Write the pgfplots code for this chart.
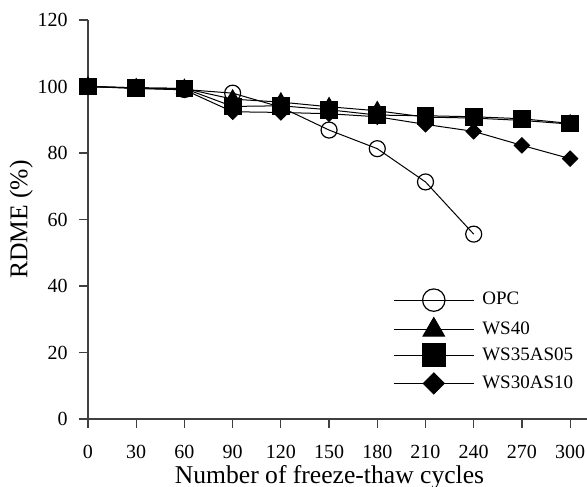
\documentclass[border=0pt]{standalone}
\usepackage{fontspec}
\setmainfont{Liberation Serif}
\usepackage{pgfplots}
\pgfplotsset{compat=1.18}

\pgfplotsset{
  opc/.style={black, line width=0.5pt, mark=o, mark size=4pt, mark options={solid, line width=0.6pt}},
  wsforty/.style={black, line width=0.5pt, mark=triangle*, mark size=4.6pt, mark options={solid}},
  wsthirtyfive/.style={black, line width=0.5pt, mark=square*, mark size=4.2pt, mark options={solid}},
  wsthirty/.style={black, line width=0.5pt, mark=square*, mark size=2.7pt, mark options={solid, rotate=45}},
}

\begin{document}
\begin{tikzpicture}
% page frame around the axis (axis sits with its lower left corner at the origin)
\useasboundingbox (-44pt,-33.5pt) rectangle (249.5pt,209.5pt);
\begin{axis}[
  scale only axis,
  width=249.5pt, height=199.5pt,
  xmin=0, xmax=310.5, ymin=0, ymax=120,
  axis x line*=bottom, axis y line*=left,
  axis line style={black!75, line width=0.6pt},
  xtick={0,30,...,300}, ytick={0,20,...,120},
  tick align=outside, major tick length=4.5pt,
  tick style={black!75, line width=0.6pt},
  /pgf/number format/assume math mode=true,
  tick label style={font=\fontsize{10}{12}\selectfont},
  yticklabel style={anchor=east, inner sep=0pt, xshift=-5.5pt},
  xticklabel style={anchor=north, inner sep=0pt, yshift=-8.6pt},
  xlabel={Number of freeze-thaw cycles},
  ylabel={RDME (\%)},
  label style={font=\fontsize{12.8}{15}\selectfont},
  xlabel style={at={(axis description cs:0.484,-0.161)}, anchor=base, inner sep=0pt},
  ylabel style={at={(axis description cs:-0.134,0.5)}, anchor=center, inner sep=0pt},
  legend image code/.code={\draw[mark repeat=2, mark phase=2, #1] plot coordinates {(0pt,0pt) (20pt,0pt) (40pt,0pt)};},
  legend cell align=left,
  legend style={draw=none, fill=none, at={(rel axis cs:0.611,0.327)}, anchor=north west,
    inner sep=0pt, row sep=3.1pt, column sep=4pt,
    nodes={inner sep=0pt, font=\fontsize{9.5}{11}\selectfont}},
]
% freeze-thaw series
\addplot[opc, forget plot] coordinates {(0,100) (30,99.5) (60,99.1) (90,98.0) (120,93.8) (150,86.9) (180,81.3) (210,71.3) (240,55.6)};
\addplot[wsforty, forget plot] coordinates {(0,100) (30,99.6) (60,99.4) (90,96.2) (120,95.3) (150,93.9) (180,92.7) (210,90.8) (240,90.5) (270,89.8) (300,88.7)};
\addplot[wsthirty, forget plot] coordinates {(0,100) (30,99.4) (60,99.0) (90,92.4) (120,92.2) (150,91.8) (180,90.9) (210,88.6) (240,86.5) (270,82.3) (300,78.3)};
\addplot[wsthirtyfive, forget plot] coordinates {(0,100) (30,99.6) (60,99.4) (90,94.0) (120,94.2) (150,93.0) (180,91.4) (210,91.2) (240,90.9) (270,90.3) (300,88.9)};

\addlegendimage{opc, mark size=5.6pt}
\addlegendentry{OPC}
\addlegendimage{wsforty, mark size=6.2pt}
\addlegendentry{WS40}
\addlegendimage{wsthirtyfive, mark size=5.7pt}
\addlegendentry{WS35AS05}
\addlegendimage{wsthirty, mark size=3.7pt}
\addlegendentry{WS30AS10}
\end{axis}
\end{tikzpicture}
\end{document}
